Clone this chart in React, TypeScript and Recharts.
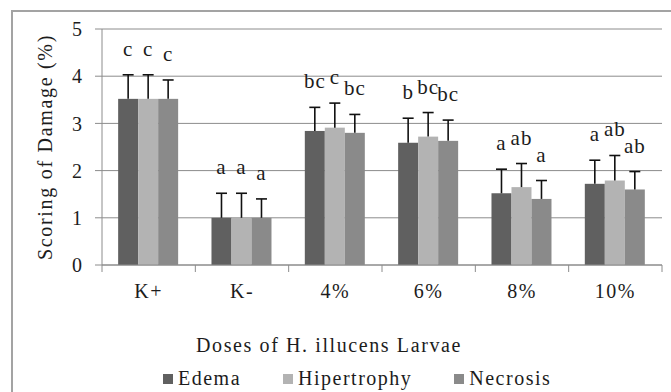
import React from 'react';
import { BarChart, Bar, XAxis, YAxis, CartesianGrid } from 'recharts';

const doses = ['K+', 'K-', '4%', '6%', '8%', '10%'];

const edema = [3.52, 1.0, 2.84, 2.59, 1.52, 1.72];
const edemaErr = [0.51, 0.52, 0.5, 0.52, 0.51, 0.5];
const edemaSig = ['c', 'a', 'bc', 'b', 'a', 'a'];

const hipertrophy = [3.52, 1.0, 2.91, 2.72, 1.65, 1.79];
const hipertrophyErr = [0.51, 0.52, 0.52, 0.51, 0.5, 0.53];
const hipertrophySig = ['c', 'a', 'c', 'bc', 'ab', 'ab'];

const necrosis = [3.52, 1.0, 2.8, 2.63, 1.4, 1.6];
const necrosisErr = [0.4, 0.4, 0.39, 0.44, 0.39, 0.38];
const necrosisSig = ['c', 'a', 'bc', 'bc', 'a', 'ab'];

const yTicks = [0, 1, 2, 3, 4, 5];

const series = [
  { key: 'edema', name: 'Edema', color: '#606060' },
  { key: 'hipertrophy', name: 'Hipertrophy', color: '#b3b3b3' },
  { key: 'necrosis', name: 'Necrosis', color: '#8a8a8a' },
];

const data = doses.map((dose, i) => ({
  dose,
  edema: edema[i],
  edemaErr: edemaErr[i],
  edemaSig: edemaSig[i],
  hipertrophy: hipertrophy[i],
  hipertrophyErr: hipertrophyErr[i],
  hipertrophySig: hipertrophySig[i],
  necrosis: necrosis[i],
  necrosisErr: necrosisErr[i],
  necrosisSig: necrosisSig[i],
}));

const FONT = 'Liberation Serif, DejaVu Serif, serif';
const TEXT = '#1c1c1c';
const AXIS = '#8c8c8c';

// bar + upper error whisker + significance letter
const barShape = (key: string, color: string) => (props: any) => {
  const { x, y, width, height, payload } = props;
  const v = payload[key];
  const pxPerUnit = v ? height / v : 0;
  const errTop = y - payload[key + 'Err'] * pxPerUnit;
  const cx = x + width / 2;
  return (
    <g>
      <rect x={x} y={y} width={width} height={height} fill={color} />
      <line x1={cx} x2={cx} y1={y} y2={errTop} stroke="#111" strokeWidth={1.6} />
      <line x1={cx - 5.5} x2={cx + 5.5} y1={errTop} y2={errTop} stroke="#111" strokeWidth={1.6} />
      <text
        x={cx}
        y={errTop - 19}
        textAnchor="middle"
        style={{ fontFamily: FONT, fontSize: 21, letterSpacing: 1 }}
        fill={TEXT}
      >
        {payload[key + 'Sig']}
      </text>
    </g>
  );
};

const DoseTick = (props: any) => {
  const { x, y, payload, index, visibleTicksCount } = props;
  const half = payload.offset || 0;
  const axisY = y - 18;
  return (
    <g>
      <line x1={x - half} x2={x - half} y1={axisY} y2={axisY + 7} stroke={AXIS} />
      {index === visibleTicksCount - 1 && (
        <line x1={x + half} x2={x + half} y1={axisY} y2={axisY + 7} stroke={AXIS} />
      )}
      <text
        x={x}
        y={y}
        dy={15}
        textAnchor="middle"
        style={{ fontFamily: FONT, fontSize: 20, letterSpacing: 1.5 }}
        fill={TEXT}
      >
        {payload.value}
      </text>
    </g>
  );
};

export default function App() {
  return (
    <div style={{ position: 'absolute', left: 0, top: 0, width: 671, height: 392, background: '#fff', overflow: 'hidden' }}>
      <div
        style={{
          position: 'absolute',
          left: 11,
          top: 10,
          width: 700,
          height: 420,
          borderLeft: '2px solid #a3a3a3',
          borderTop: '2px solid #a3a3a3',
        }}
      />
      <BarChart
        width={671}
        height={392}
        data={data}
        margin={{ top: 29, right: 9, bottom: 0, left: 0 }}
        barCategoryGap="17.3%"
        barGap={0}
        style={{ position: 'absolute', left: 0, top: 0 }}
      >
        <CartesianGrid vertical={false} stroke={AXIS} strokeWidth={1} />
        <XAxis
          dataKey="dose"
          height={127}
          tickLine={false}
          tickSize={0}
          tickMargin={18}
          stroke={AXIS}
          interval={0}
          tick={<DoseTick />}
          label={({ viewBox }: any) => (
            <text
              x={viewBox.x + viewBox.width / 2 - 53}
              y={viewBox.y + 87}
              textAnchor="middle"
              style={{ fontFamily: FONT, fontSize: 20, letterSpacing: 1.6 }}
              fill={TEXT}
            >
              Doses of H. illucens Larvae
            </text>
          )}
        />
        <YAxis
          width={102}
          domain={[0, 5]}
          ticks={yTicks}
          interval={0}
          stroke={AXIS}
          tickSize={7}
          tickMargin={13}
          tick={{ style: { fontFamily: FONT, fontSize: 20 }, fill: TEXT }}
          label={({ viewBox }: any) => (
            <text
              x={45}
              y={viewBox.y + viewBox.height / 2}
              transform={`rotate(-90, 45, ${viewBox.y + viewBox.height / 2})`}
              textAnchor="middle"
              dominantBaseline="central"
              style={{ fontFamily: FONT, fontSize: 20, letterSpacing: 1.7 }}
              fill={TEXT}
            >
              Scoring of Damage (%)
            </text>
          )}
        />
        {series.map((s) => (
          <Bar
            key={s.key}
            dataKey={s.key}
            name={s.name}
            fill={s.color}
            isAnimationActive={false}
            shape={barShape(s.key, s.color)}
          />
        ))}
      </BarChart>
      <div
        style={{
          position: 'absolute',
          left: 163,
          top: 367,
          display: 'flex',
          alignItems: 'center',
          fontFamily: FONT,
          fontSize: 20,
          letterSpacing: 1.5,
          color: TEXT,
          whiteSpace: 'nowrap',
        }}
      >
        {series.map((s, i) => (
          <div key={s.key} style={{ display: 'flex', alignItems: 'center', marginRight: i < series.length - 1 ? 42 : 0 }}>
            <span style={{ display: 'inline-block', width: 10, height: 10, background: s.color, marginRight: 5 }} />
            <span>{s.name}</span>
          </div>
        ))}
      </div>
    </div>
  );
}
